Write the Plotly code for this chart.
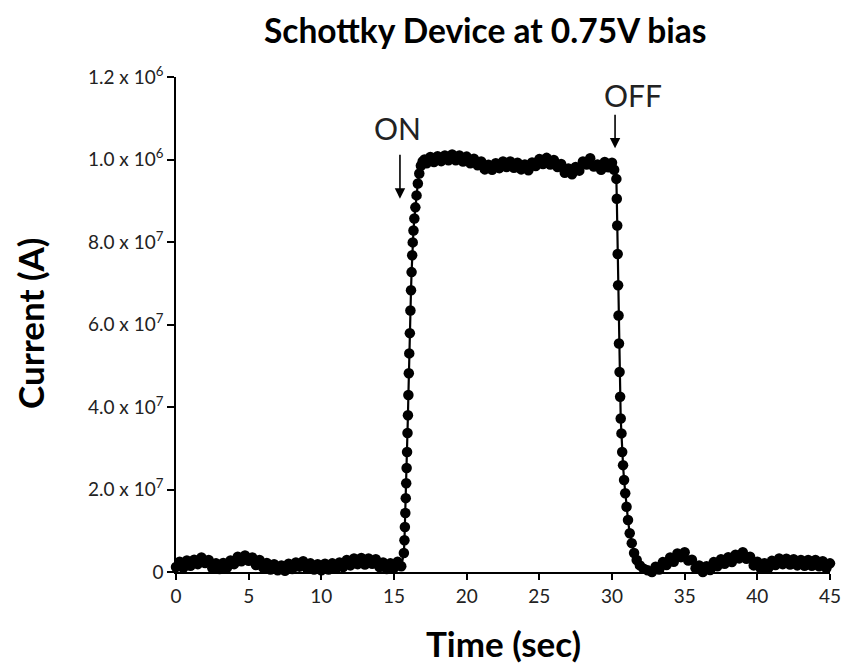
import plotly.graph_objects as go

# ---------------- data (current in units of 1e-6 A) ----------------
time_pre = [0.0, 0.25, 0.5, 0.75, 1.0, 1.25, 1.5, 1.75, 2.0, 2.25, 2.5, 2.75, 3.0, 3.25, 3.5, 3.75,
            4.0, 4.25, 4.5, 4.75, 5.0, 5.25, 5.5, 5.75, 6.0, 6.25, 6.5, 6.75, 7.0, 7.25, 7.5, 7.75,
            8.0, 8.25, 8.5, 8.75, 9.0, 9.25, 9.5, 9.75, 10.0, 10.25, 10.5, 10.75, 11.0, 11.25, 11.5, 11.75,
            12.0, 12.25, 12.5, 12.75, 13.0, 13.25, 13.5, 13.75, 14.0, 14.25, 14.5, 14.75, 15.0, 15.25, 15.5]
current_pre = [0.012, 0.025, 0.010, 0.028, 0.015, 0.030, 0.019, 0.035, 0.022, 0.029, 0.009, 0.021, 0.007, 0.022, 0.010, 0.028,
               0.019, 0.037, 0.026, 0.040, 0.027, 0.035, 0.017, 0.029, 0.011, 0.022, 0.006, 0.019, 0.004, 0.016, 0.003, 0.020,
               0.007, 0.023, 0.013, 0.026, 0.009, 0.021, 0.006, 0.019, 0.004, 0.020, 0.006, 0.021, 0.008, 0.023, 0.012, 0.029,
               0.016, 0.033, 0.019, 0.034, 0.018, 0.033, 0.020, 0.031, 0.012, 0.023, 0.007, 0.021, 0.010, 0.025, 0.014]

time_rise = [15.68, 15.72, 15.75, 15.78, 15.81, 15.84, 15.87, 15.90, 15.93, 15.96, 15.99, 16.02, 16.05, 16.09,
             16.13, 16.17, 16.21, 16.25, 16.29, 16.34, 16.40, 16.47, 16.55, 16.64, 16.74, 16.85, 16.97, 17.10]
current_rise = [0.046, 0.077, 0.109, 0.143, 0.179, 0.215, 0.252, 0.291, 0.337, 0.380, 0.429, 0.482, 0.530, 0.579,
                0.634, 0.683, 0.727, 0.768, 0.799, 0.828, 0.857, 0.884, 0.913, 0.942, 0.966, 0.985, 0.995, 1.000]

time_on = [17.25, 17.5, 17.75, 18.0, 18.25, 18.5, 18.75, 19.0, 19.25, 19.5, 19.75, 20.0, 20.25,
           20.5, 20.75, 21.0, 21.25, 21.5, 21.75, 22.0, 22.25, 22.5, 22.75, 23.0, 23.25, 23.5,
           23.75, 24.0, 24.25, 24.5, 24.75, 25.0, 25.25, 25.5, 25.75, 26.0, 26.25, 26.5, 26.75,
           27.0, 27.25, 27.5, 27.75, 28.0, 28.25, 28.5, 28.75, 29.0, 29.25, 29.5, 29.75, 30.0, 30.15]
current_on = [0.991, 1.006, 0.994, 1.008, 0.996, 1.010, 0.998, 1.012, 0.998, 1.010, 0.995, 1.007, 0.991,
              1.002, 0.986, 0.995, 0.976, 0.987, 0.975, 0.991, 0.979, 0.995, 0.982, 0.995, 0.980, 0.992,
              0.976, 0.988, 0.974, 0.993, 0.984, 1.001, 0.989, 1.004, 0.988, 0.999, 0.982, 0.989, 0.968,
              0.978, 0.964, 0.982, 0.973, 0.995, 0.988, 1.003, 0.983, 0.988, 0.975, 0.994, 0.981, 0.992, 0.975]

time_fall = [30.30, 30.33, 30.36, 30.39, 30.42, 30.45, 30.48, 30.52, 30.56, 30.60, 30.65, 30.70,
             30.76, 30.83, 30.91, 31.00, 31.10, 31.22, 31.36, 31.52, 31.70, 31.92, 32.18, 32.45]
current_fall = [0.953, 0.905, 0.840, 0.771, 0.695, 0.622, 0.554, 0.485, 0.425, 0.372, 0.336, 0.291,
                0.259, 0.223, 0.191, 0.158, 0.126, 0.094, 0.070, 0.046, 0.029, 0.016, 0.008, 0.004]

time_post = [32.75, 33.0, 33.25, 33.5, 33.75, 34.0, 34.25, 34.5, 34.75, 35.0, 35.25, 35.5, 35.75,
             36.0, 36.25, 36.5, 36.75, 37.0, 37.25, 37.5, 37.75, 38.0, 38.25, 38.5, 38.75, 39.0,
             39.25, 39.5, 39.75, 40.0, 40.25, 40.5, 40.75, 41.0, 41.25, 41.5, 41.75, 42.0, 42.25,
             42.5, 42.75, 43.0, 43.25, 43.5, 43.75, 44.0, 44.25, 44.5, 44.75, 45.0]
current_post = [0.000, 0.013, 0.006, 0.024, 0.017, 0.035, 0.025, 0.045, 0.036, 0.048, 0.028, 0.030, 0.009,
                0.016, 0.000, 0.014, 0.005, 0.024, 0.014, 0.031, 0.020, 0.036, 0.024, 0.042, 0.033, 0.048,
                0.032, 0.037, 0.016, 0.025, 0.008, 0.021, 0.009, 0.027, 0.017, 0.033, 0.019, 0.032, 0.018,
                0.031, 0.016, 0.029, 0.015, 0.029, 0.015, 0.029, 0.014, 0.026, 0.009, 0.021]

y_tickvals = [0, 0.2, 0.4, 0.6, 0.8, 1.0, 1.2]
y_ticktext = ["0", "2.0 x 10<sup>7</sup>", "4.0 x 10<sup>7</sup>", "6.0 x 10<sup>7</sup>",
              "8.0 x 10<sup>7</sup>", "1.0 x 10<sup>6</sup>", "1.2 x 10<sup>6</sup>"]
x_tickvals = [0, 5, 10, 15, 20, 25, 30, 35, 40, 45]

title_text = "Schottky Device at 0.75V bias"
x_title = "Time (sec)"
y_title = "Current (A)"

# annotation anchors (data coords)
on_label = ("ON", 15.27, 1.076)
on_arrow = (15.41, 1.015, 0.905)   # x, tail y, tip y
off_label = ("OFF", 31.45, 1.156)
off_arrow = (30.21, 1.112, 1.027)

time_all = time_pre + time_rise + time_on + time_fall + time_post
current_all = current_pre + current_rise + current_on + current_fall + current_post

FONT = "Lato"
TXT = "#222222"

fig = go.Figure()
fig.add_trace(go.Scatter(
    x=time_all, y=current_all, mode="lines+markers",
    line=dict(color="black", width=2.2),
    marker=dict(color="black", size=10.5, line=dict(width=0)),
    cliponaxis=False, showlegend=False,
))

annotations = [
    dict(text=f"<b>{title_text}</b>", xref="paper", yref="paper", x=(485 - 176) / 654, y=1.0 + 47 / 495,
         showarrow=False, xanchor="center", yanchor="middle", font=dict(size=33.5, color="black", family=FONT)),
    dict(text=f"<b>{x_title}</b>", xref="paper", yref="paper", x=(503 - 176) / 654, y=-(643 - 572) / 495,
         showarrow=False, xanchor="center", yanchor="middle", font=dict(size=35, color="black", family=FONT)),
    dict(text=f"<b>{y_title}</b>", xref="paper", yref="paper", x=-(176 - 30) / 654, y=(572 - 324) / 495,
         showarrow=False, xanchor="center", yanchor="middle", textangle=-90,
         font=dict(size=35, color="black", family=FONT)),
]
for lab in (on_label, off_label):
    annotations.append(dict(text=lab[0], x=lab[1], y=lab[2], xref="x", yref="y", showarrow=False,
                            xanchor="center", yanchor="middle", font=dict(size=30, color=TXT, family=FONT)))
for arr in (on_arrow, off_arrow):
    annotations.append(dict(text="", x=arr[0], y=arr[2], ax=arr[0], ay=arr[1], xref="x", yref="y",
                            axref="x", ayref="y", showarrow=True, arrowhead=2, arrowsize=1.3,
                            arrowwidth=1.6, arrowcolor="black"))

fig.update_layout(
    width=844, height=663,
    margin=dict(l=176, r=14, t=77, b=91, autoexpand=False),
    paper_bgcolor="white", plot_bgcolor="white",
    font=dict(family=FONT, color=TXT, size=19),
    annotations=annotations,
)
fig.update_xaxes(range=[0, 45], tickvals=x_tickvals, showgrid=False, zeroline=False, automargin=False,
                 showline=True, linecolor="black", linewidth=1.5,
                 ticks="outside", ticklen=6, tickwidth=1.5, tickcolor="black",
                 tickfont=dict(size=19, color=TXT, family=FONT))
fig.update_yaxes(range=[0, 1.2], tickvals=y_tickvals, ticktext=y_ticktext, showgrid=False, zeroline=False,
                 automargin=False,
                 showline=True, linecolor="black", linewidth=1.5,
                 ticks="outside", ticklen=7, tickwidth=1.5, tickcolor="black",
                 tickfont=dict(size=19, color=TXT, family=FONT))

fig.write_html("out.html", config={"displayModeBar": False},
               post_script="document.body.style.margin='0px';document.body.style.overflow='hidden';")
